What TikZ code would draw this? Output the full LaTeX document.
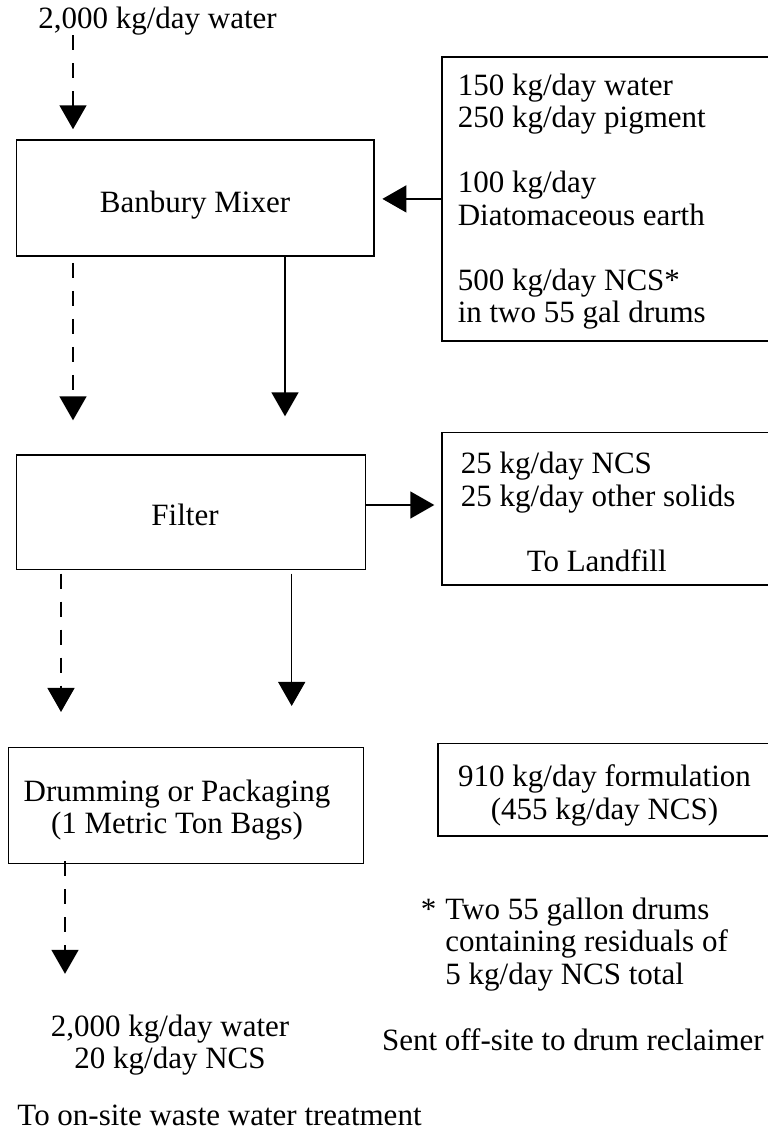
\documentclass[tikz,border=0pt]{standalone}
\usepackage{fontspec}
\setmainfont{Liberation Serif}
\usetikzlibrary{arrows.meta}

\begin{document}
\begin{tikzpicture}[x=1pt,y=-1pt,line width=1.5pt,
	procbox/.style={draw,rectangle,inner sep=0pt},
	lbl/.style={inner sep=0pt,font=\fontsize{31}{32.5}\selectfont},
	flow/.style={-{Triangle[length=24pt,width=27pt]}},
	wflow/.style={flow,dash pattern=on 15pt off 13pt}]
	\useasboundingbox (0,0) rectangle (768,1141);

	\node[procbox,minimum width=357.3pt,minimum height=116pt] (mixer) at (195.3,198) {};
	\node[procbox,minimum width=349pt,minimum height=114.3pt] (filter) at (191.2,512.2) {};
	\node[procbox,minimum width=355pt,minimum height=115.6pt] (drum) at (185.8,805.5) {};
	\node[procbox,minimum width=348.3pt,minimum height=284.3pt] (inputs) at (615.9,198.9) {};
	\node[procbox,minimum width=348.3pt,minimum height=152.7pt] (landfill) at (615.9,508.7) {};
	\node[procbox,minimum width=352pt,minimum height=92.7pt] (product) at (614,789.7) {};

	\node[lbl,anchor=base] (water in) at (157.5,28) {2,000 kg/day water};
	\node[lbl,anchor=base] (mixer text) at (195,212) {Banbury Mixer};
	\node[lbl,anchor=north west,align=left] (inputs text) at (457,72.8) {150 kg/day water\\250 kg/day pigment\\[32.5pt]100 kg/day\\Diatomaceous earth\\[32.5pt]500 kg/day NCS*\\in two 55 gal drums};
	\node[lbl,anchor=base] (filter text) at (185,525) {Filter};
	\node[lbl,anchor=north west,align=left] (landfill text) at (460,451.5) {25 kg/day NCS\\25 kg/day other solids};
	\node[lbl,anchor=base] (landfill dest) at (596.7,571) {To Landfill};
	\node[lbl,anchor=north,align=center] (drum text) at (177,778.8) {Drumming or Packaging\\(1 Metric Ton Bags)};
	\node[lbl,anchor=north,align=center] (product text) at (604.5,764) {910 kg/day formulation\\(455 kg/day NCS)};
	\node[lbl,anchor=north west,align=left] (drum note) at (444.7,897) {\llap{*\hspace{9pt}}Two 55 gallon drums\\containing residuals of\\5 kg/day NCS total};
	\node[lbl,anchor=base west] (reclaimer) at (381.3,1050) {Sent off-site to drum reclaimer};
	\node[lbl,anchor=north,align=center] (water out) at (170,1013.8) {2,000 kg/day water\\20 kg/day NCS};
	\node[lbl,anchor=base west] (treatment) at (16.7,1125) {To on-site waste water treatment};

	\coordinate (lane a) at (73,0);
	\coordinate (lane b) at (285,0);
	\coordinate (lane c) at (61,0);
	\coordinate (lane d) at (291.7,0);
	\coordinate (lane e) at (65,0);
	\coordinate (side) at (0,505);

	\draw[wflow,shorten >=10pt] (lane a |- water in.south) -- (lane a |- mixer.north);
	\draw[wflow,shorten <=6pt,shorten >=34pt] (lane a |- mixer.south) -- (lane a |- filter.north);
	\draw[flow,shorten >=38pt] (lane b |- mixer.south) -- (lane b |- filter.north);
	\draw[flow,shorten >=7.7pt] (inputs.west) -- (inputs.west -| mixer.east);
	\draw[flow,shorten >=6.7pt] (filter.east |- side) -- (landfill.west |- side);
	\draw[wflow,shorten <=3.4pt,shorten >=35pt] (lane c |- filter.south) -- (lane c |- drum.north);
	\draw[flow,shorten <=3.4pt,shorten >=41pt] (lane d |- filter.south) -- (lane d |- drum.north);
	\draw[wflow,shorten <=-3pt,shorten >=40pt] (lane e |- drum.south) -- (lane e |- water out.north);
\end{tikzpicture}
\end{document}
